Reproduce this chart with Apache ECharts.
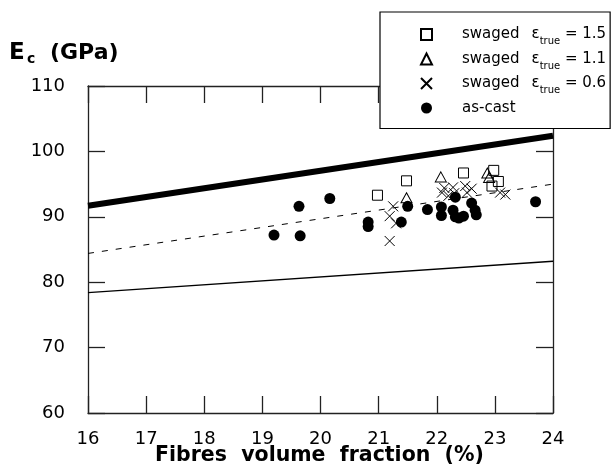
<!DOCTYPE html>
<html>
<head>
<meta charset="utf-8">
<script src="https://cdn.jsdelivr.net/npm/echarts@6/dist/echarts.min.js"></script>
<style>html,body{margin:0;padding:0;background:#fff}#c{width:611px;height:468px}</style>
</head>
<body>
<div id="c"></div>
<script>
// ---- data ----
const xTicks = [16, 17, 18, 19, 20, 21, 22, 23, 24];
const yTicks = [60, 70, 80, 90, 100, 110];
const seriesNames = ['swaged 1.5', 'swaged 1.1', 'swaged 0.6', 'as-cast'];
const strainLabels = ['1.5', '1.1', '0.6'];
const swaged15 = [[20.98,93.3],[21.48,95.5],[22.46,96.7],[22.98,97.1],[23.06,95.4],[22.95,94.7]];
const swaged11 = [[21.48,92.9],[22.07,96.1],[22.87,96.7],[22.9,96.0]];
const swaged06 = [[21.19,86.3],[21.19,90.1],[21.25,91.6],[21.3,89.0],[22.09,93.7],[22.13,94.4],[22.2,93.2],[22.28,94.5],[22.3,93.6],[22.49,94.7],[22.52,93.7],[22.6,94.3],[23.09,93.7],[23.18,93.4]];
const asCast = [[19.2,87.2],[19.63,91.6],[19.65,87.1],[20.16,92.8],[20.82,89.2],[20.82,88.5],[21.39,89.2],[21.5,91.6],[21.84,91.1],[22.08,91.5],[22.08,90.2],[22.32,93.0],[22.28,91.0],[22.32,90.0],[22.38,89.8],[22.46,90.1],[22.6,92.1],[22.66,91.0],[22.68,90.3],[23.7,92.3]];
const upperBound = [[16,91.7],[24,102.4]];
const modelLine = [[16,84.4],[24,95.0]];
const lowerBound = [[16,78.4],[24,83.2]];

const chart = echarts.init(document.getElementById('c'));
const F = 'DejaVu Sans';
const axisCommon = {
  type: 'value', splitLine: {show: false},
  axisLine: {show: true, lineStyle: {color: '#222', width: 1.3}},
  axisTick: {show: true, inside: true, length: 17, lineStyle: {color: '#222', width: 1.3}},
};
const hollow = {color: 'rgba(0,0,0,0)', borderColor: '#000', borderWidth: 1, opacity: 1};
chart.setOption({
  animation: false,
  backgroundColor: '#fff',
  grid: {left: 88, right: 58, top: 86, bottom: 55},
  xAxis: [
    Object.assign({}, axisCommon, {min: xTicks[0], max: xTicks[xTicks.length-1], interval: 1, position: 'bottom',
      axisLabel: {fontFamily: F, fontSize: 18, color: '#000', margin: 17}}),
    Object.assign({}, axisCommon, {min: xTicks[0], max: xTicks[xTicks.length-1], interval: 1, position: 'top', axisLabel: {show: false}})
  ],
  yAxis: [
    Object.assign({}, axisCommon, {min: yTicks[0], max: yTicks[yTicks.length-1], interval: 10, position: 'left',
      axisLabel: {fontFamily: F, fontSize: 18, color: '#000', margin: 23}}),
    Object.assign({}, axisCommon, {min: yTicks[0], max: yTicks[yTicks.length-1], interval: 10, position: 'right', axisLabel: {show: false}})
  ],
  legend: {
    data: seriesNames, orient: 'vertical', left: 380, top: 12,
    backgroundColor: '#fff', borderColor: '#000', borderWidth: 1.2, borderRadius: 0,
    padding: [15, 4, 13, 40], itemWidth: 11, itemHeight: 11, itemGap: 5,
    textStyle: {fontFamily: F, fontSize: 15, color: '#000',
      rich: {
        a: {fontFamily: F, fontSize: 15, color: '#000', lineHeight: 24, padding: [0, 0, 0, 25]},
        e: {fontFamily: F, fontSize: 15, color: '#000', lineHeight: 24, padding: [0, 0, 0, 12]},
        s: {fontFamily: F, fontSize: 10, color: '#000', lineHeight: 10, verticalAlign: 'bottom'},
        v: {fontFamily: F, fontSize: 15, color: '#000', lineHeight: 24}
      }},
    formatter: function (name) {
      const i = seriesNames.indexOf(name);
      if (i < 3) return '{a|swaged}{e|ε}{s|true}{v| = ' + strainLabels[i] + '}';
      return '{a|as-cast}';
    }
  },
  graphic: [
    {type: 'text', left: 9, top: 42, style: {text: 'E', font: 'bold 23px "DejaVu Sans"', fill: '#000'}},
    {type: 'text', left: 27, top: 52, style: {text: 'c', font: 'bold 14px "DejaVu Sans"', fill: '#000'}},
    {type: 'text', left: 50, top: 42, style: {text: '(GPa)', font: 'bold 22px "DejaVu Sans"', fill: '#000'}},
    {type: 'text', left: 155, top: 445, style: {text: 'Fibres  volume  fraction  (%)', font: 'bold 20.5px "DejaVu Sans"', fill: '#000'}}
  ],
  series: [
    {name: seriesNames[0], type: 'scatter', data: swaged15, symbol: 'rect', symbolSize: 10, itemStyle: hollow, z: 5},
    {name: seriesNames[1], type: 'scatter', data: swaged11, symbol: 'triangle', symbolSize: [11, 10], itemStyle: hollow, z: 5},
    {name: seriesNames[2], type: 'scatter', data: swaged06, symbol: 'path://M0,0L10,10M0,10L10,0', symbolSize: 10, itemStyle: hollow, z: 5},
    {name: seriesNames[3], type: 'scatter', data: asCast, symbol: 'circle', symbolSize: 11, itemStyle: {color: '#000', opacity: 1}, z: 6},
    {type: 'line', data: upperBound, symbol: 'none', lineStyle: {color: '#000', width: 6}, z: 3},
    {type: 'line', data: modelLine, symbol: 'none', lineStyle: {color: '#000', width: 1, type: [6, 8]}, z: 3},
    {type: 'line', data: lowerBound, symbol: 'none', lineStyle: {color: '#000', width: 1.3}, z: 3}
  ]
});
</script>
</body>
</html>
